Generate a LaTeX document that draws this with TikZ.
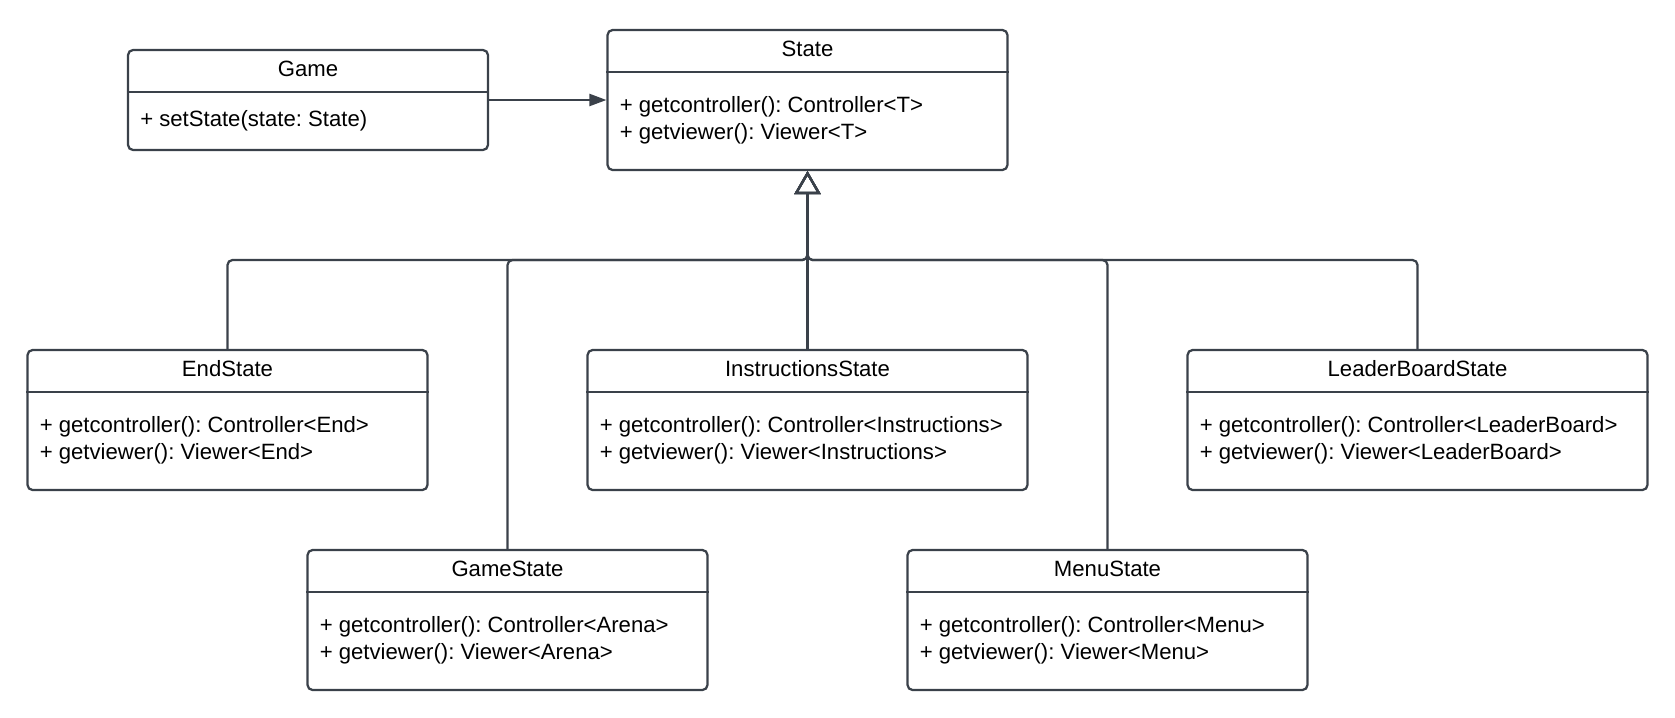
\documentclass[tikz,border=0pt]{standalone}
\usepackage{fontspec}
\setmainfont{Liberation Sans}
\frenchspacing
\usetikzlibrary{arrows.meta}
\definecolor{umlline}{RGB}{58,65,74}
\tikzset{
  classbox/.style={draw=umlline, line width=0.045cm, rounded corners=0.1cm, fill=white, inner sep=0pt},
  classrule/.style={draw=umlline, line width=0.045cm},
  classname/.style={inner sep=0pt, anchor=base, font=\fontsize{12.6}{15.1}\selectfont},
  classmembers/.style={inner sep=0pt, anchor=base west, align=left, font=\fontsize{12.6}{15.1}\selectfont},
  inherits/.style={draw=umlline, line width=0.045cm, rounded corners=0.1cm, -{Triangle[open, width=0.52cm, length=0.46cm]}},
  uses/.style={draw=umlline, line width=0.045cm, -{Triangle[width=0.24cm, length=0.34cm]}}
}
\begin{document}
\begin{tikzpicture}[x=0.02cm, y=-0.02cm]
\useasboundingbox (0,0) rectangle (1675,717);

% Drawing class Game
\node [classbox, minimum width=7.2cm, minimum height=2cm] (game) at (308,100) {};
\draw [classrule] ([yshift=-0.86cm]game.north west) -- ([yshift=-0.86cm]game.north east);
\node [classname] (gamename) at ([yshift=-0.55cm]game.north) {Game};
\node [classmembers] (gamemembers) at ([xshift=0.26cm, yshift=-1.55cm]game.north west) {+ setState(state: State)};

% Drawing class State
\node [classbox, minimum width=8cm, minimum height=2.8cm] (state) at (807.5,100) {};
\draw [classrule] ([yshift=-0.86cm]state.north west) -- ([yshift=-0.86cm]state.north east);
\node [classname] (statename) at ([yshift=-0.55cm]state.north) {State};
\node [classmembers] (statemembers) at ([xshift=0.26cm, yshift=-2.21cm]state.north west) {+ getcontroller(): Controller<T>\\+ getviewer(): Viewer<T>};

% Drawing class EndState
\node [classbox, minimum width=8cm, minimum height=2.8cm] (endstate) at (227.5,420) {};
\draw [classrule] ([yshift=-0.86cm]endstate.north west) -- ([yshift=-0.86cm]endstate.north east);
\node [classname] (endstatename) at ([yshift=-0.55cm]endstate.north) {EndState};
\node [classmembers] (endstatemembers) at ([xshift=0.26cm, yshift=-2.21cm]endstate.north west) {+ getcontroller(): Controller<End>\\+ getviewer(): Viewer<End>};

% Drawing class InstructionsState
\node [classbox, minimum width=8.8cm, minimum height=2.8cm] (instructions) at (807.5,420) {};
\draw [classrule] ([yshift=-0.86cm]instructions.north west) -- ([yshift=-0.86cm]instructions.north east);
\node [classname] (instructionsname) at ([yshift=-0.55cm]instructions.north) {InstructionsState};
\node [classmembers] (instructionsmembers) at ([xshift=0.26cm, yshift=-2.21cm]instructions.north west) {+ getcontroller(): Controller<Instructions>\\+ getviewer(): Viewer<Instructions>};

% Drawing class LeaderBoardState
\node [classbox, minimum width=9.2cm, minimum height=2.8cm] (leaderboard) at (1417.5,420) {};
\draw [classrule] ([yshift=-0.86cm]leaderboard.north west) -- ([yshift=-0.86cm]leaderboard.north east);
\node [classname] (leaderboardname) at ([yshift=-0.55cm]leaderboard.north) {LeaderBoardState};
\node [classmembers] (leaderboardmembers) at ([xshift=0.26cm, yshift=-2.21cm]leaderboard.north west) {+ getcontroller(): Controller<LeaderBoard>\\+ getviewer(): Viewer<LeaderBoard>};

% Drawing class GameState
\node [classbox, minimum width=8cm, minimum height=2.8cm] (gamestate) at (507.5,620) {};
\draw [classrule] ([yshift=-0.86cm]gamestate.north west) -- ([yshift=-0.86cm]gamestate.north east);
\node [classname] (gamestatename) at ([yshift=-0.55cm]gamestate.north) {GameState};
\node [classmembers] (gamestatemembers) at ([xshift=0.26cm, yshift=-2.21cm]gamestate.north west) {+ getcontroller(): Controller<Arena>\\+ getviewer(): Viewer<Arena>};

% Drawing class MenuState
\node [classbox, minimum width=8cm, minimum height=2.8cm] (menustate) at (1107.5,620) {};
\draw [classrule] ([yshift=-0.86cm]menustate.north west) -- ([yshift=-0.86cm]menustate.north east);
\node [classname] (menustatename) at ([yshift=-0.55cm]menustate.north) {MenuState};
\node [classmembers] (menustatemembers) at ([xshift=0.26cm, yshift=-2.21cm]menustate.north west) {+ getcontroller(): Controller<Menu>\\+ getviewer(): Viewer<Menu>};

% Drawing association Game State
\draw [uses] (game.east) -- (state.west);

% Drawing generalizations
\coordinate (hub) at (807.5,260);
\draw [inherits] (endstate.north) |- (hub) -- (state.south);
\draw [inherits] (gamestate.north) |- (hub) -- (state.south);
\draw [inherits] (instructions.north) -- (state.south);
\draw [inherits] (menustate.north) |- (hub) -- (state.south);
\draw [inherits] (leaderboard.north) |- (hub) -- (state.south);
\end{tikzpicture}
\end{document}
